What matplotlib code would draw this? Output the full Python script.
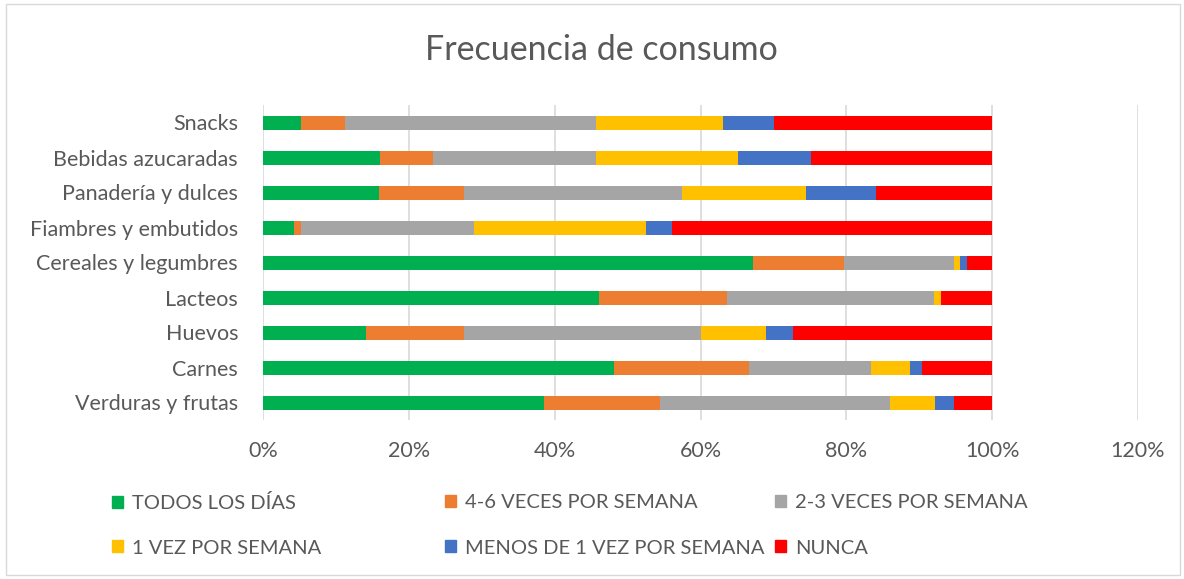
import numpy as np
import matplotlib.pyplot as plt
from matplotlib.patches import Patch, Rectangle

# categorias (de abajo hacia arriba, como en el grafico)
categorias = ["Verduras y frutas", "Carnes", "Huevos", "Lacteos",
              "Cereales y legumbres", "Fiambres y embutidos",
              "Panadería y dulces", "Bebidas azucaradas", "Snacks"]

series = ["TODOS LOS DÍAS", "4-6 VECES POR SEMANA", "2-3 VECES POR SEMANA",
          "1 VEZ POR SEMANA", "MENOS DE 1 VEZ POR SEMANA", "NUNCA"]

# porcentajes
todos_los_dias = [38.5, 48.2, 14.1, 46.1, 67.2, 4.25, 15.9, 16.0, 5.2]
veces_4_6 = [15.9, 18.5, 13.4, 17.6, 12.5, 0.95, 11.6, 7.3, 6.1]
veces_2_3 = [31.6, 16.7, 32.6, 28.3, 15.1, 23.7, 30.0, 22.3, 34.3]
una_vez = [6.1, 5.3, 8.9, 1.0, 0.8, 23.6, 16.9, 19.6, 17.5]
menos_de_1 = [2.7, 1.7, 3.7, 0.0, 0.9, 3.6, 9.6, 9.9, 7.0]
nunca = [5.2, 9.6, 27.3, 7.0, 3.5, 43.9, 16.0, 24.9, 29.9]

valores = [todos_los_dias, veces_4_6, veces_2_3, una_vez, menos_de_1, nunca]
colores = ["#00B050", "#ED7D31", "#A5A5A5", "#FFC000", "#4472C4", "#FF0000"]

# posicion de cada entrada de la leyenda (pixeles)
pos_leyenda = [(112, 503), (445, 503), (775, 503),
               (112, 548), (445, 548), (775, 548)]

plt.rcParams['font.family'] = ['Lato', 'DejaVu Sans']
gris_texto = "#595959"

W, H = 1184, 579
fig = plt.figure(figsize=(W / 100, H / 100), dpi=100)
ax = fig.add_axes([263 / W, 1 - 420 / H, (1138 - 263) / W, 315 / H])

y = np.arange(len(categorias))
izq = np.zeros(len(categorias))
for vals, col, nom in zip(valores, colores, series):
    vals = np.array(vals) / 100.0
    ax.barh(y, vals, left=izq, height=0.4, color=col, label=nom, zorder=3)
    izq += vals

ax.set_xlim(0, 1.2)
ax.set_ylim(-0.5, len(categorias) - 0.5)
ax.set_xticks(np.arange(0, 1.21, 0.2))
ax.set_xticklabels([f"{int(round(v * 100))}%" for v in np.arange(0, 1.21, 0.2)])
ax.set_yticks(y)
ax.set_yticklabels(categorias)
ax.tick_params(axis='both', length=0, labelsize=15.5, labelcolor=gris_texto)
ax.tick_params(axis='x', pad=15)
ax.tick_params(axis='y', pad=18)
ax.grid(axis='x', color="#D9D9D9", linewidth=1.2, zorder=0)
for s in ax.spines.values():
    s.set_visible(False)

fig.text(601 / W, 1 - 50 / H, "Frecuencia de consumo", ha='center', va='center',
         fontsize=24.5, color=gris_texto)

for (px, py), col, nom in zip(pos_leyenda, colores, series):
    fig.legend(handles=[Patch(color=col)], labels=[nom], loc='center left',
               bbox_to_anchor=(px / W, 1 - py / H), frameon=False,
               fontsize=14.5, labelcolor=gris_texto, handlelength=0.55,
               handleheight=0.55, handletextpad=0.45, borderpad=0, borderaxespad=0)

fig.add_artist(Rectangle((6 / W, 4 / H), 1 - 10 / W, 1 - 8 / H,
                         transform=fig.transFigure, fill=False,
                         edgecolor="#D9D9D9", linewidth=1))

fig.savefig("out.png", dpi=100)
